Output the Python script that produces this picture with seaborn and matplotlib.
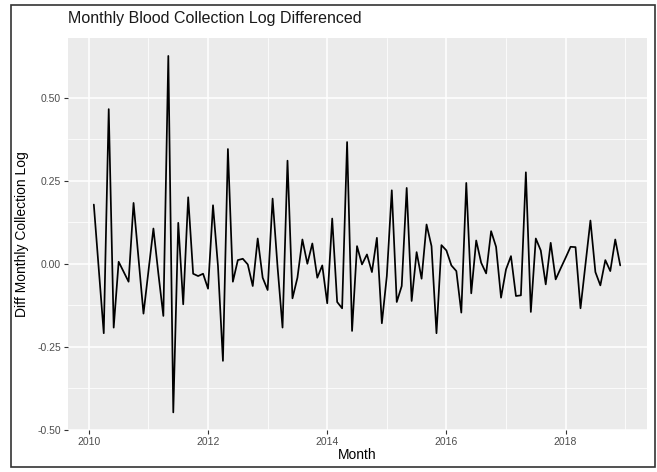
import matplotlib
matplotlib.use("Agg")
import matplotlib.pyplot as plt
import seaborn as sns
import pandas as pd
from matplotlib.patches import Rectangle
from matplotlib.ticker import FixedLocator

# ---- data ----
start_month = "2010-02-01"
diff_log = [
    0.178, -0.017, -0.209, 0.465, -0.192, 0.006, -0.024, -0.054, 0.183, 0.016, -0.150,
    -0.022, 0.106, -0.030, -0.157, 0.625, -0.447, 0.123, -0.122, 0.200, -0.030, -0.037, -0.030,
    -0.075, 0.176, -0.007, -0.292, 0.345, -0.054, 0.011, 0.015, -0.002, -0.067, 0.076, -0.042,
    -0.079, 0.196, -0.010, -0.192, 0.310, -0.104, -0.042, 0.073, 0.000, 0.061, -0.042, -0.005,
    -0.119, 0.136, -0.115, -0.134, 0.366, -0.202, 0.053, -0.002, 0.028, -0.025, 0.078, -0.179,
    -0.037, 0.221, -0.115, -0.067, 0.228, -0.112, 0.035, -0.045, 0.118, 0.053, -0.209, 0.056,
    0.040, -0.005, -0.022, -0.147, 0.243, -0.089, 0.070, 0.003, -0.029, 0.098, 0.051, -0.102,
    -0.017, 0.023, -0.097, -0.095, 0.275, -0.145, 0.076, 0.040, -0.062, 0.063, -0.047, -0.014,
    0.018, 0.051, 0.050, -0.134, -0.002, 0.130, -0.025, -0.065, 0.011, -0.022, 0.073, -0.005,
]
x_ticks = [2010, 2012, 2014, 2016, 2018]
x_minor = [2011, 2013, 2015, 2017, 2019]
y_ticks = [-0.50, -0.25, 0.00, 0.25, 0.50]
y_tick_labels = ["-0.50", "-0.25", "0.00", "0.25", "0.50"]
y_minor = [-0.375, -0.125, 0.125, 0.375]

months = pd.date_range(start_month, periods=len(diff_log), freq="MS")
df = pd.DataFrame({
    "Month": months.year + (months.month - 1) / 12.0,
    "Diff": diff_log,
})

sns.set_theme(style="darkgrid")
plt.rcParams["font.family"] = ["Liberation Sans", "DejaVu Sans"]

W, H = 657, 472
fig = plt.figure(figsize=(W / 100, H / 100), dpi=100)
fig.patch.set_facecolor("white")

L, R, T, B = 68, 647, 38, 430
ax = fig.add_axes([L / W, 1 - B / H, (R - L) / W, (B - T) / H])
ax.set_facecolor("#EBEBEB")

sns.lineplot(data=df, x="Month", y="Diff", color="black", linewidth=1.25, ax=ax)

ax.set_xlim(2009.65, 2019.366)
ax.set_ylim(-0.50, 0.679)

ax.xaxis.set_major_locator(FixedLocator(x_ticks))
ax.xaxis.set_minor_locator(FixedLocator(x_minor))
ax.set_xticklabels([str(t) for t in x_ticks])
ax.yaxis.set_major_locator(FixedLocator(y_ticks))
ax.yaxis.set_minor_locator(FixedLocator(y_minor))
ax.set_yticklabels(y_tick_labels)

ax.grid(which="major", color="white", linewidth=1.1)
ax.grid(which="minor", color="white", linewidth=0.55)
ax.set_axisbelow(True)
for s in ax.spines.values():
    s.set_visible(False)

ax.tick_params(which="major", length=3, width=0.8, color="#333333",
               labelcolor="#4D4D4D", labelsize=7.5, pad=2,
               bottom=True, left=True)
ax.tick_params(which="minor", length=0)

ax.set_xlabel("Month", fontsize=9.9, color="black")
ax.set_ylabel("Diff Monthly Collection Log", fontsize=10, color="black")
ax.xaxis.set_label_coords(0.5, (B - 448) / (B - T))
ax.yaxis.set_label_coords((29 - L) / (R - L), 0.5)

fig.text(L / W, 1 - 18 / H, "Monthly Blood Collection Log Differenced",
         ha="left", va="center", fontsize=11.5, color="#1a1a1a")

fig.patches.append(Rectangle((11 / W, 1 - 467 / H), (655 - 11) / W, (467 - 5) / H,
                             transform=fig.transFigure, fill=False,
                             edgecolor="#333333", linewidth=1.2))

fig.savefig("out.png", dpi=100)
